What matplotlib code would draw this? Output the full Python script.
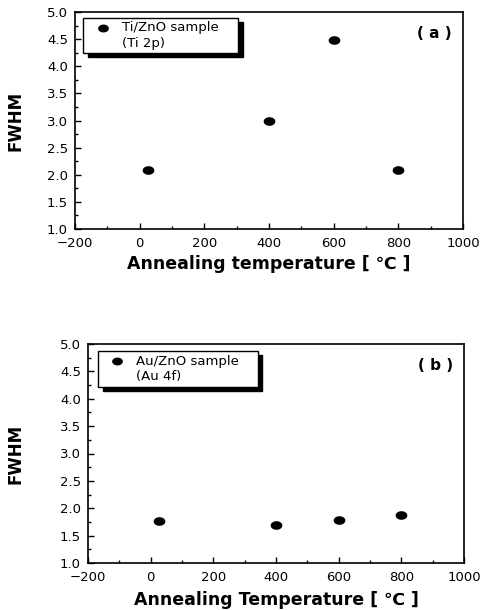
import matplotlib
matplotlib.use("Agg")
import matplotlib.pyplot as plt
from matplotlib.patches import Rectangle
from matplotlib.path import Path
from matplotlib.ticker import MultipleLocator
import numpy as np

# Data
temps = [25, 400, 600, 800]
fwhm_ti = [2.08, 3.0, 4.48, 2.08]
fwhm_au = [1.77, 1.69, 1.79, 1.87]

panels = [
    dict(y=fwhm_ti, legend="Ti/ZnO sample\n(Ti 2p)", tag="( a )",
         xlabel="Annealing temperature [ \u2103 ]",
         rect=[75 / 483, 1 - 229 / 610, 388 / 483, 217 / 610],
         box=(0.021, 0.811, 0.40, 0.161), ylab_x=-0.129, xlab_pad=4),
    dict(y=fwhm_au, legend="Au/ZnO sample\n(Au 4f)", tag="( b )",
         xlabel="Annealing Temperature [ \u2103 ]",
         rect=[88 / 483, 1 - 563 / 610, 376 / 483, 219 / 610],
         box=(0.027, 0.804, 0.425, 0.164), ylab_x=-0.168, xlab_pad=5),
]

# slightly flattened ellipse marker
t = np.linspace(0, 2 * np.pi, 40)
ellipse = Path(np.column_stack([np.cos(t), 0.7 * np.sin(t)]), closed=True)

fig = plt.figure(figsize=(4.83, 6.10), dpi=100)
plt.rcParams['font.family'] = ['DejaVu Sans']

for p in panels:
    ax = fig.add_axes(p["rect"])
    ax.scatter(temps, p["y"], marker=ellipse, s=55, color="black", zorder=3)
    ax.set_xlim(-200, 1000)
    ax.set_ylim(1.0, 5.0)
    ax.xaxis.set_major_locator(MultipleLocator(200))
    ax.xaxis.set_minor_locator(MultipleLocator(100))
    ax.yaxis.set_minor_locator(MultipleLocator(0.25))
    ax.set_yticks(np.arange(1.0, 5.01, 0.5))
    ax.set_yticklabels([f"{v:.1f}" for v in np.arange(1.0, 5.01, 0.5)])
    ax.tick_params(which="both", direction="in", labelsize=9.5, width=1)
    ax.tick_params(axis="x", which="major", length=4, pad=5.5)
    ax.tick_params(axis="y", which="major", length=4, pad=5)
    ax.tick_params(which="minor", length=2.5)
    for s in ax.spines.values():
        s.set_linewidth(1.2)
    ax.set_xlabel(p["xlabel"], fontsize=12.5, fontweight="bold", labelpad=p["xlab_pad"])
    ax.set_ylabel("FWHM", fontsize=12, fontweight="bold")
    ax.yaxis.set_label_coords(p["ylab_x"], 0.5)

    # legend box with black drop shadow
    bx, by, bw, bh = p["box"]
    ax.add_patch(Rectangle((bx + 0.012, by - 0.02), bw, bh, transform=ax.transAxes,
                           facecolor="black", edgecolor="black", zorder=4))
    ax.add_patch(Rectangle((bx, by), bw, bh, transform=ax.transAxes,
                           facecolor="white", edgecolor="black", lw=1, zorder=5))
    ax.scatter([bx + 0.05], [by + bh * 0.72], marker=ellipse, s=45, color="black",
               transform=ax.transAxes, zorder=6, clip_on=False)
    ax.text(bx + 0.1, by + bh * 0.5, p["legend"], transform=ax.transAxes,
            fontsize=9.5, va="center", ha="left", linespacing=1.25, zorder=6)
    ax.text(0.97, 0.9, p["tag"], transform=ax.transAxes, fontsize=11,
            fontweight="bold", ha="right", va="center")

fig.savefig("out.png", dpi=100)
